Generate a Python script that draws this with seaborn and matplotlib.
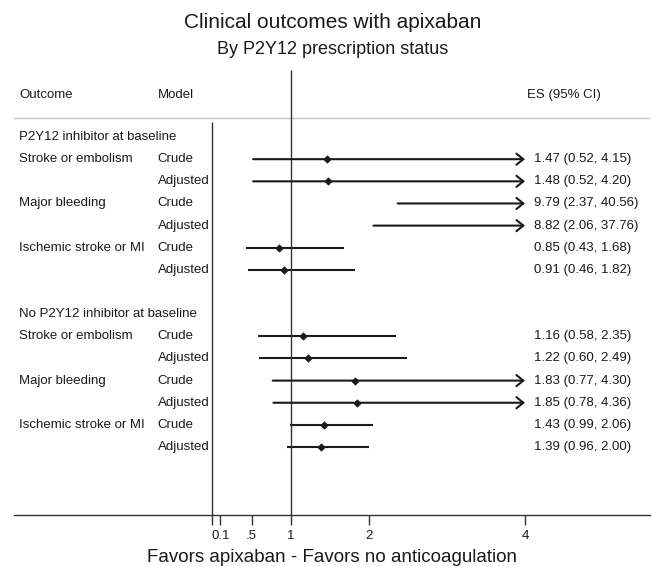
import matplotlib
matplotlib.use("Agg")
import pandas as pd
import matplotlib.pyplot as plt
import seaborn as sns

# values
groups = ["P2Y12 inhibitor at baseline", "No P2Y12 inhibitor at baseline"]
outcomes = ["Stroke or embolism", "Major bleeding", "Ischemic stroke or MI"]
models = ["Crude", "Adjusted"]
es_p2y12 = [1.47, 1.48, 9.79, 8.82, 0.85, 0.91]
lo_p2y12 = [0.52, 0.52, 2.37, 2.06, 0.43, 0.46]
hi_p2y12 = [4.15, 4.20, 40.56, 37.76, 1.68, 1.82]
es_no = [1.16, 1.22, 1.83, 1.85, 1.43, 1.39]
lo_no = [0.58, 0.60, 0.77, 0.78, 0.99, 0.96]
hi_no = [2.35, 2.49, 4.30, 4.36, 2.06, 2.00]
tick_vals = [0, 0.1, 0.5, 1, 2, 4]
tick_labels = ["", "0.1", ".5", "1", "2", "4"]
x_cap = 4

sns.set_style("white")
plt.rcParams["font.family"] = ["Liberation Sans", "DejaVu Sans"]
ink = "#1a1a1a"

# build a long table with one row per estimate, plus row positions
rows = []
r = 0
for g, (es, lo, hi) in zip(groups, [(es_p2y12, lo_p2y12, hi_p2y12), (es_no, lo_no, hi_no)]):
    rows.append(dict(group=g, outcome=None, model=None, es=None, lo=None, hi=None, row=r))
    r += 1
    for i in range(6):
        rows.append(dict(group=g, outcome=outcomes[i // 2], model=models[i % 2],
                         es=es[i], lo=lo[i], hi=hi[i], row=r))
        r += 1
    r += 1
df = pd.DataFrame(rows)
est = df.dropna(subset=["es"]).copy()
for c in ["es", "lo", "hi"]:
    est[c] = est[c].astype(float)

fig = plt.figure(figsize=(6.52, 5.67), dpi=100)
ax = fig.add_axes([0.0215, 0.0917, 0.9755, 0.8025])

# confidence intervals, arrows when the upper bound runs past the axis
for _, d in est.iterrows():
    if d.hi > x_cap:
        ax.annotate("", xy=(x_cap, d.row), xytext=(d.lo, d.row),
                    arrowprops=dict(arrowstyle="->,head_length=0.5,head_width=0.4",
                                    lw=1.5, color=ink, shrinkA=0, shrinkB=0))
    else:
        ax.hlines(d.row, d.lo, d.hi, color=ink, lw=1.5)

sns.scatterplot(data=est[est.es <= x_cap], x="es", y="row", marker="D", s=14,
                color=ink, edgecolor=ink, linewidth=0.5, zorder=3, legend=False, ax=ax)

# left-hand and right-hand text columns
fs = 9.5
ax.text(-2.47, -1.9, "Outcome", fontsize=fs, va="center", color=ink)
ax.text(-0.70, -1.9, "Model", fontsize=fs, va="center", color=ink)
ax.text(4.02, -1.9, "ES (95% CI)", fontsize=fs, va="center", color=ink)
for _, d in df[df.es.isna()].iterrows():
    ax.text(-2.47, d.row, d.group, fontsize=fs, va="center", color=ink)
for _, d in est.iterrows():
    if d.model == "Crude":
        ax.text(-2.47, d.row, d.outcome, fontsize=fs, va="center", color=ink)
    ax.text(-0.70, d.row, d.model, fontsize=fs, va="center", color=ink)
    ax.text(4.11, d.row, f"{d.es:.2f} ({d.lo:.2f}, {d.hi:.2f})",
            fontsize=fs, va="center", color=ink)

ax.axhline(-0.86, color="#c4c4c4", lw=1)
ax.vlines(1, -3.02, 17.07, color="#333333", lw=1)
ax.vlines(0, -0.68, 17.07, color="#333333", lw=1)

ax.set_xlim(-2.54, 5.60)
ax.set_ylim(17.07, -3.48)
for s in ["top", "left", "right"]:
    ax.spines[s].set_visible(False)
ax.spines["bottom"].set_color("#333333")
ax.spines["bottom"].set_linewidth(1)
ax.set_yticks([])
ax.set_ylabel("")
ax.set_xticks(tick_vals)
ax.set_xticklabels(tick_labels)
ax.tick_params(axis="x", bottom=True, direction="out", length=7, width=1,
               color="#333333", labelsize=fs, pad=4, labelcolor=ink)
ax.set_xlabel("Favors apixaban - Favors no anticoagulation", fontsize=13.5, labelpad=5,
              color=ink)

fig.text(0.51, 1 - 22 / 567, "Clinical outcomes with apixaban", fontsize=15,
         ha="center", va="center", color=ink)
fig.text(0.51, 1 - 50 / 567, "By P2Y12 prescription status", fontsize=13,
         ha="center", va="center", color=ink)

fig.savefig("out.png", dpi=100)
